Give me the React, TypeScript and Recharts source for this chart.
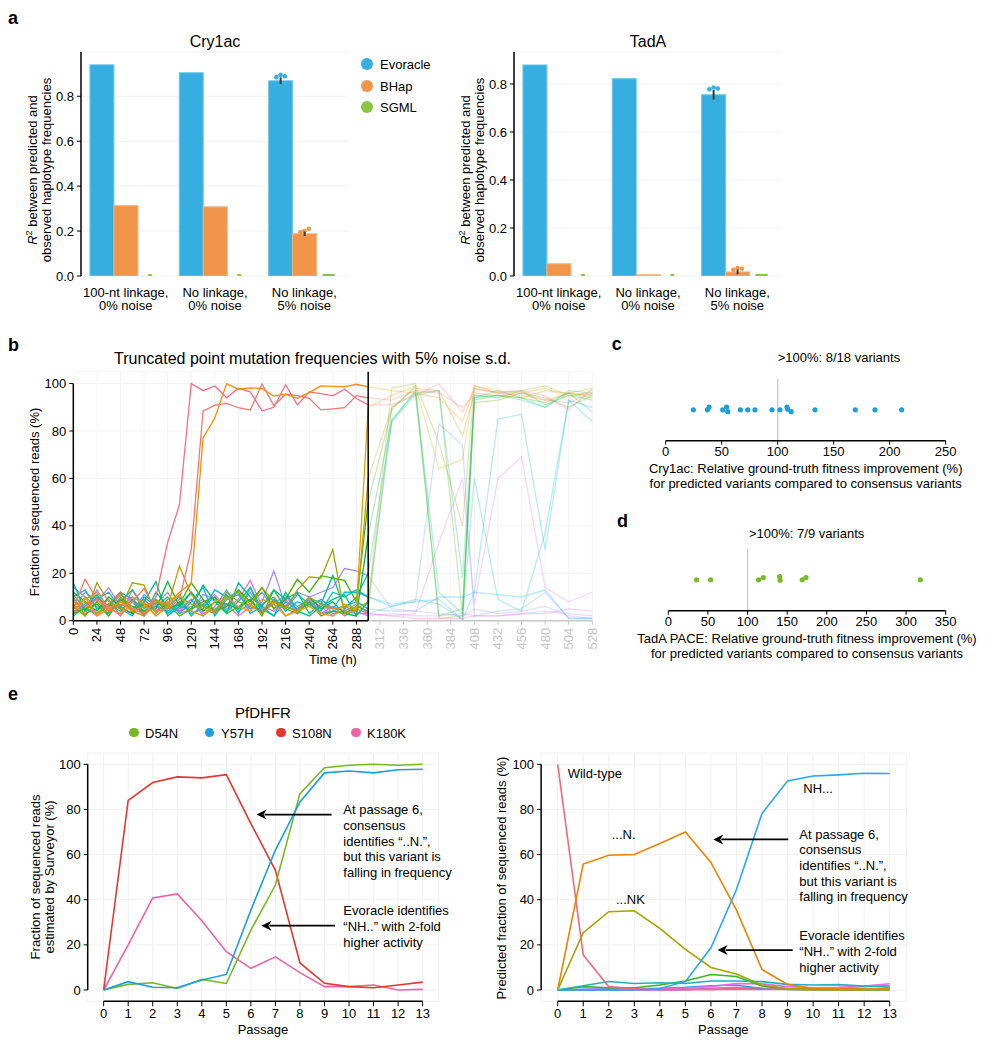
import React from "react";
import {
  Bar,
  BarChart,
  CartesianGrid,
  ErrorBar,
  Line,
  LineChart,
  ReferenceLine,
  Scatter,
  ScatterChart,
  XAxis,
  YAxis,
} from "recharts";

const FONT = "'Liberation Sans', Arial, Helvetica, sans-serif";

// ---------- a: R^2 between predicted and observed haplotype frequencies
const aCategories = ["100-nt linkage,|0% noise", "No linkage,|0% noise", "No linkage,|5% noise"];
const aMethods = ["Evoracle", "BHap", "SGML"];
const aColors = ["#36AEE0", "#F0954A", "#8CC444"];
const aStrokes = ["#72C8EE", "#F6B380", "#8CC444"];

const cryEvoracle = [0.94, 0.905, 0.869];
const cryBHap = [0.313, 0.308, 0.188];
const crySGML = [0, 0, 0];
const cryEvoErr = [0, 0, 0.015];
const cryBHapErr = [0, 0, 0.01];
const cryEvoReps = [[], [], [0.885, 0.895, 0.889]];
const cryBHapReps = [[], [], [0.195, 0.2, 0.21]];
const crySGMLReps = [[0], [0], [0, 0, 0, 0, 0]];

const tadEvoracle = [0.879, 0.822, 0.755];
const tadBHap = [0.051, 0.005, 0.017];
const tadSGML = [0, 0, 0];
const tadEvoErr = [0, 0, 0.02];
const tadBHapErr = [0, 0, 0.01];
const tadEvoReps = [[], [], [0.778, 0.785, 0.781]];
const tadBHapReps = [[], [], [0.026, 0.033, 0.03]];
const tadSGMLReps = [[0], [0], [0, 0, 0, 0, 0]];

// ---------- b: truncated point mutation frequencies (%)
const bTimes = [0, 12, 24, 36, 48, 60, 72, 84, 96, 108, 120, 132, 144, 156, 168, 180, 192, 204, 216, 228, 240, 252, 264, 276, 288, 300,
  324, 348, 372, 396, 408, 432, 456, 480, 504, 528];
const bTicks = [0, 24, 48, 72, 96, 120, 144, 168, 192, 216, 240, 264, 288, 312, 336, 360, 384, 408, 432, 456, 480, 504, 528];
const bCut = 300;

const bPinkA = [8, 6, 9, 4, 7, 5, 3, 10, 33, 49, 100, 97, 99, 94, 98, 96.5, 88.5, 90, 99.5, 91, 96.5, 95.8, 94.8, 97.6, 93.7, 91,
  91, 95, 99.8, 88, 97.7, 96.3, 97, 94.8, 89, 97.7];
const bSalmon = [5, 17.5, 9, 6, 2, 8, 13.5, 4, 5, 9, 30, 88.4, 90.9, 91.6, 89.8, 88.8, 99.8, 90.7, 95.5, 94.9, 93.8, 88.9, 89.3, 89.8, 94.9, 94,
  93, 97, 96, 90, 95, 95, 96, 93, 92, 96];
const bOrange = [3, 10, 2, 5, 8, 4, 6, 8, 7, 12, 15.7, 77, 85.5, 100, 97.6, 98.2, 97.9, 94.7, 95.5, 93.8, 96.3, 99, 98.8, 98.6, 99.7, 98.6,
  97, 96, 94, 84, 98, 96, 95, 93, 96, 95];
const bGold = [6, 9, 12, 5, 3, 10, 7, 2, 6, 11, 4, 2, 8, 10, 6, 4, 9, 7, 2, 4, 6, 3, 2, 7, 5, 90,
  95, 99, 64, 68, 99, 97, 96, 98, 94, 97];
const bOlive = [10, 2, 16, 8, 5, 16, 15, 3, 9, 10, 7, 5, 3, 12, 8, 6, 14, 8, 5, 13, 18.5, 18, 30, 3, 5, 8,
  98, 100, 75, 40, 99, 96, 97, 99, 95, 96];
const bOliveGold = [5, 8, 3, 7, 12, 4, 2, 9, 6, 23, 11, 6, 4, 9, 12, 7, 3, 8, 6, 4, 10, 7, 5, 6, 4, 60,
  90, 98, 97, 78, 96, 95, 94, 97, 96, 98];
const bGreen = [3, 5, 7, 2, 9, 6, 4, 8, 5, 7, 16, 9, 4, 6, 13, 8, 14, 5, 9, 17.5, 12, 19, 18, 17, 8, 50,
  89, 99, 1, 2, 93, 95, 94, 92, 96, 94];
const bGreen2 = [12, 8, 4, 10, 6, 3, 7, 5, 16.5, 6, 12, 4, 8, 7, 5, 9, 3, 8, 6, 4, 10, 5, 8, 3, 2, 36,
  85, 96, 2, 5, 95, 94, 97, 91, 95, 93];
const bTeal = [16, 4, 10, 6, 12, 3, 8, 16.5, 2, 6, 5, 15, 8, 3, 16, 10, 6, 13, 9, 12, 3, 7, 19, 5, 10, 20,
  84, 97, 12, 3, 94, 95, 93, 90, 97, 96];
const bTeal2 = [2, 6, 11, 4, 8, 13, 5, 9, 3, 7, 12, 6, 10, 4, 8, 14, 3, 9, 5, 11, 7, 4, 12, 10, 13, 10,
  6, 9, 7, 0.5, 60, 9, 4, 37, 93, 90];
const bCyan = [10, 13, 5, 7, 12, 9, 4, 6, 10, 3, 8, 14, 2, 9, 11, 5, 7, 10, 4, 8, 6, 9, 5, 12, 12, 10,
  7, 8, 9, 0.5, 12, 85, 87, 30, 93, 84];
const bCyan2 = [3, 7, 9, 12, 5, 2, 10, 6, 4, 8, 3, 5, 13, 10, 12, 3, 6, 2, 8, 5, 9, 3, 4, 6, 8, 5,
  4, 4, 10, 10, 12, 11, 10, 13, 1, 1];
const bBlue = [14, 10, 6, 3, 9, 4, 11, 7, 3, 5, 9, 2, 6, 13, 4, 7, 12, 5, 10, 6, 9, 8, 3, 4, 7, 3,
  6, 8, 83, 74, 2, 4, 5, 12, 1, 1];
const bPurple = [5, 12, 8, 14, 6, 10, 3, 9, 5, 7, 4, 11, 9, 6, 13, 5, 8, 21, 6, 12, 10, 12, 14, 22, 21, 19,
  5, 4, 3, 2, 5, 3, 4, 6, 2, 1];
const bViolet = [9, 4, 13, 5, 11, 8, 2, 7, 12, 4, 6, 9, 3, 10, 5, 12, 4, 7, 11, 3, 9, 6, 2, 5, 4, 2,
  3, 2, 2, 3, 2, 2, 3, 4, 3, 2];
const bMagenta = [7, 3, 5, 9, 2, 13, 6, 4, 8, 3, 5, 7, 11, 5, 9, 17, 6, 4, 9, 3, 8, 5, 6, 4, 3, 3,
  2, 3, 33, 60, 7, 60, 69, 14, 8, 12];
const bPink2 = [4, 6, 2, 7, 5, 3, 8, 2, 6, 4, 9, 3, 5, 7, 2, 6, 4, 9, 2, 5, 7, 3, 6, 2, 5, 3,
  2, 1, 1, 1, 2, 2, 3, 3, 5, 4];
const bGreen3 = [6, 2, 8, 3, 10, 5, 9, 4, 7, 2, 5, 8, 10, 3, 6, 9, 2, 13, 5, 3, 8, 2, 4, 3, 6, 4,
  90, 96, 97, 2, 92, 93, 96, 94, 90, 95];
const bTeal3 = [11, 5, 3, 7, 4, 9, 2, 12, 6, 10, 2, 7, 4, 11, 3, 14, 5, 2, 12, 4, 2, 6, 9, 11, 2, 8,
  84, 95, 97, 18, 94, 97, 94, 90, 96, 88];

const bSeries = [
  { color: "#00A9FF", values: bCyan2 },
  { color: "#619CFF", values: bBlue },
  { color: "#B983FF", values: bViolet },
  { color: "#FF62BC", values: bPink2 },
  { color: "#E76BF3", values: bMagenta },
  { color: "#A58AFF", values: bPurple },
  { color: "#00B8E5", values: bCyan },
  { color: "#00BFC4", values: bTeal2 },
  { color: "#00C1A3", values: bTeal3 },
  { color: "#53B400", values: bGreen3 },
  { color: "#00C08B", values: bTeal },
  { color: "#00BA38", values: bGreen2 },
  { color: "#39B600", values: bGreen },
  { color: "#A3A500", values: bOlive },
  { color: "#C49A00", values: bOliveGold },
  { color: "#E69F00", values: bGold },
  { color: "#F8766D", values: bSalmon },
  { color: "#FF6B81", values: bPinkA },
  { color: "#FF8C00", values: bOrange },
];

// ---------- c, d: relative ground-truth fitness improvement (%)
const cValues = [24.7, 37.2, 38.7, 50.9, 54.4, 55.4, 66.7, 73.2, 79.7, 94.9, 102, 108.3, 109, 112, 133.3, 169.3, 186.9, 210.7];
const cJitter = [0, 0, 0.09, 0, 0.09, -0.06, 0, 0, 0, 0, 0, 0.09, 0.02, -0.06, 0, 0, 0, 0];
const dValues = [35.8, 53.5, 114, 119.9, 140.5, 141, 169, 173.7, 318];
const dJitter = [0, 0, 0, 0.075, 0.105, -0.01, 0, 0.075, 0];

// ---------- e: PfDHFR passages
const passages = [0, 1, 2, 3, 4, 5, 6, 7, 8, 9, 10, 11, 12, 13];
const d54n = [0, 2.5, 3.2, 0.7, 4.7, 2.9, 26.5, 46.5, 87, 98.5, 99.6, 100, 99.6, 100];
const y57h = [0, 3.7, 1.2, 1, 4.4, 6.9, 35.4, 62, 83.3, 96.2, 97, 96.2, 97.6, 97.8];
const s108n = [0, 84, 91.9, 94.4, 94, 95.4, 73.7, 53, 12, 3, 1.5, 1, 2.2, 3.5];
const k180k = [0, 20, 40.8, 42.6, 30.7, 17, 9.6, 14.7, 7.7, 1.5, 1.5, 2.2, 0, 0.3];
const eLeftSeries = [
  { name: "K180K", color: "#EF62A8", values: k180k },
  { name: "S108N", color: "#E8352E", values: s108n },
  { name: "D54N", color: "#78B828", values: d54n },
  { name: "Y57H", color: "#1A9FE0", values: y57h },
];

const hapWildType = [100, 15.5, 1.5, 0.5, 0.3, 0.3, 0.3, 0.3, 0.3, 0.3, 0.3, 0.3, 0.3, 0.3];
const hapDotN = [0, 55.8, 59.7, 60, 64.9, 70, 56.5, 35.4, 9.1, 2.5, 0.7, 0.5, 0.4, 0.4];
const hapDotNK = [0, 25.4, 34.7, 35.1, 27.3, 18, 10, 7.1, 2.2, 0.7, 0.4, 0.3, 0.3, 0.3];
const hapNH = [0, 0, 0, 0, 0.7, 3.7, 18.7, 44.5, 78.2, 92.6, 94.8, 95.3, 96, 95.9];
const hapTeal = [0, 1.9, 3.8, 2.9, 3.2, 2.9, 4, 4, 3.7, 2.5, 2.2, 2.4, 1.8, 1.3];
const hapGreen = [0, 1.5, 1, 1, 2.2, 4, 6.9, 6, 1.8, 0.3, 0, 0, 0, 0];
const hapMagenta = [0, 0.2, 0.3, 0.3, 0.5, 0.8, 1.5, 2.9, 2.7, 1.5, 1, 1.2, 1.8, 2.8];
const hapBlue2 = [0, 0.3, 0.5, 0.5, 0.8, 1.2, 1.9, 2.2, 0.7, 0.5, 0.5, 0.4, 0.3, 0.3];
const hapPink2 = [0, 0, 0, 0, 0, 0.2, 0.3, 0.6, 0.5, 0.4, 0.3, 0.3, 0.3, 0.2];
const hapPurple = [0, 0, 0, 0, 0, 0, 0.8, 1.2, 0.8, 0.5, 0.8, 1, 1.5, 2];
const eRightSeries = [
  { color: "#F5589A", values: hapPink2 },
  { color: "#B07CF5", values: hapPurple },
  { color: "#3F9BE8", values: hapBlue2 },
  { color: "#E46CF0", values: hapMagenta },
  { color: "#38B61F", values: hapGreen },
  { color: "#1FB2BC", values: hapTeal },
  { color: "#F7657A", values: hapWildType },
  { color: "#A7A200", values: hapDotNK },
  { color: "#EE8300", values: hapDotN },
  { color: "#2AA7F5", values: hapNH },
];

// ---------- helpers
const Txt = ({ x, y, children, size = 13, center = false, weight = 400 }: any) => (
  <div
    style={{
      position: "absolute",
      left: x,
      top: y,
      fontSize: size,
      fontWeight: weight,
      lineHeight: 1,
      whiteSpace: "nowrap",
      transform: center ? "translate(-50%, -50%)" : "translate(0, -50%)",
    }}
  >
    {children}
  </div>
);

const Block = ({ x, top, lines, lh = 15.7, center = false }: any) => (
  <div
    style={{
      position: "absolute",
      left: x,
      top,
      fontSize: 13,
      lineHeight: `${lh}px`,
      whiteSpace: "nowrap",
      textAlign: center ? "center" : "left",
      transform: center ? "translateX(-50%)" : undefined,
    }}
  >
    {lines.map((l: string, i: number) => (
      <div key={i}>{l}</div>
    ))}
  </div>
);

const VLabel = ({ cx, cy, children, lh = 14 }: any) => (
  <div
    style={{
      position: "absolute",
      left: cx,
      top: cy,
      fontSize: 13,
      lineHeight: `${lh}px`,
      whiteSpace: "nowrap",
      textAlign: "center",
      transform: "translate(-50%, -50%) rotate(-90deg)",
    }}
  >
    {children}
  </div>
);

const PanelLetter = ({ x, top, ch }: any) => (
  <div style={{ position: "absolute", left: x, top, fontSize: 18, fontWeight: 700, lineHeight: 1 }}>{ch}</div>
);

const barWithReps = (repsKey: string, dotColor: string) => (props: any) => {
  const { x, y, width, height, payload, fill, stroke } = props;
  const raw = props.value;
  const v = Array.isArray(raw) ? raw[1] : raw;
  const reps: number[] = (payload && payload[repsKey]) || [];
  const base = y + height;
  const ppu = v > 0 ? height / v : 0;
  return (
    <g>
      {height > 0 && <rect x={x} y={y} width={width} height={height} fill={fill} stroke={stroke} strokeWidth={1} />}
      {reps.map((r, i) => {
        const off = reps.length > 1 ? (i / (reps.length - 1) - 0.5) * 0.35 * width : 0;
        return <circle key={i} cx={x + width / 2 + off} cy={base - r * ppu} r={2.3} fill={dotColor} />;
      })}
    </g>
  );
};

const CatTick = (props: any) => {
  const { x, y, payload } = props;
  const lines = String(payload.value).split("|");
  return (
    <text x={x} y={y} textAnchor="middle" fontSize={13} fill="#000">
      {lines.map((l, i) => (
        <tspan key={i} x={x} dy={i === 0 ? 20.5 : 13.6}>
          {l}
        </tspan>
      ))}
    </text>
  );
};

const TimeTick = (props: any) => {
  const { x, y, payload } = props;
  const c = payload.value > bCut ? "#C4C4C4" : "#000";
  return (
    <g>
      <line x1={x} y1={y} x2={x} y2={y + 4} stroke={c} strokeWidth={1} />
      <text
        x={x}
        y={y + 7}
        transform={`rotate(-90 ${x} ${y + 7})`}
        textAnchor="end"
        dominantBaseline="central"
        fontSize={13}
        fill={c}
      >
        {payload.value}
      </text>
    </g>
  );
};

const arrowShape = (props: any) => {
  const { x1, y1, x2, y2 } = props;
  const dx = x2 - x1;
  const dy = y2 - y1;
  const len = Math.hypot(dx, dy) || 1;
  const ux = dx / len;
  const uy = dy / len;
  const hl = 10;
  const hw = 5;
  const bx = x2 - ux * hl;
  const by = y2 - uy * hl;
  return (
    <g>
      <line x1={x1} y1={y1} x2={bx + ux * 2} y2={by + uy * 2} stroke="#000" strokeWidth={1.7} />
      <polygon points={`${x2},${y2} ${bx - uy * hw},${by + ux * hw} ${bx + ux * 3},${by + uy * 3} ${bx + uy * hw},${by - ux * hw}`} fill="#000" />
    </g>
  );
};

const tickStyle = { fill: "#000", fontSize: 13 };

// ---------- panel a chart
const BarPanel = ({ evo, bhap, sgml, evoErr, bhapErr, evoReps, bhapReps, sgmlReps, yMax }: any) => {
  const data = aCategories.map((cat, i) => ({
    cat,
    evo: evo[i],
    bhap: bhap[i],
    sgml: sgml[i],
    evoErr: evoErr[i],
    bhapErr: bhapErr[i],
    evoReps: evoReps[i],
    bhapReps: bhapReps[i],
    sgmlReps: sgmlReps[i],
  }));
  return (
    <BarChart width={360} height={320} data={data} margin={{ top: 52, right: 11, left: 0, bottom: 0 }} barGap={0} barCategoryGap="10%">
      <CartesianGrid vertical={false} stroke="#F1F1F1" />
      <XAxis dataKey="cat" axisLine={false} tickLine={false} tickSize={0} tickMargin={0} height={44} interval={0} tick={<CatTick />} />
      <YAxis
        domain={[0, yMax]}
        ticks={[0, 0.2, 0.4, 0.6, 0.8]}
        tickFormatter={(v: number) => v.toFixed(1)}
        width={81}
        allowDataOverflow
        axisLine={{ stroke: "#000", strokeWidth: 1.5 }}
        tickLine={{ stroke: "#000" }}
        tickSize={4}
        tickMargin={3}
        tick={tickStyle}
      />
      <Bar dataKey="evo" fill={aColors[0]} stroke={aStrokes[0]} shape={barWithReps("evoReps", aColors[0])} isAnimationActive={false}>
        <ErrorBar dataKey="evoErr" width={0} stroke="#3A3A3A" strokeWidth={2} />
      </Bar>
      <Bar dataKey="bhap" fill={aColors[1]} stroke={aStrokes[1]} shape={barWithReps("bhapReps", aColors[1])} isAnimationActive={false}>
        <ErrorBar dataKey="bhapErr" width={0} stroke="#3A3A3A" strokeWidth={2} />
      </Bar>
      <Bar dataKey="sgml" fill={aColors[2]} stroke={aStrokes[2]} shape={barWithReps("sgmlReps", aColors[2])} isAnimationActive={false} />
    </BarChart>
  );
};

const bRows = bTimes.map((t, i) => {
  const row: any = { t };
  bSeries.forEach((s, k) => {
    row[`s${k}`] = t <= bCut ? s.values[i] : null;
    row[`f${k}`] = t >= bCut ? s.values[i] : null;
  });
  return row;
});

const eLeftRows = passages.map((p, i) => {
  const row: any = { p };
  eLeftSeries.forEach((s, k) => (row[`l${k}`] = s.values[i]));
  return row;
});

const eRightRows = passages.map((p, i) => {
  const row: any = { p };
  eRightSeries.forEach((s, k) => (row[`r${k}`] = s.values[i]));
  return row;
});

const pctTicks = [0, 20, 40, 60, 80, 100];

const PassageChart = ({ rows, series, prefix, width, yAxisWidth, right, arrows }: any) => (
  <LineChart width={width} height={310} data={rows} margin={{ top: 13, right, left: 0, bottom: 0 }}>
    <CartesianGrid stroke="#F0F0F0" />
    <XAxis
      type="number"
      dataKey="p"
      domain={[-0.65, 13.65]}
      ticks={passages}
      interval={0}
      allowDataOverflow
      axisLine={false}
      tickLine={{ stroke: "#000" }}
      tickSize={5}
      tickMargin={2}
      height={48.7}
      tick={tickStyle}
    />
    <YAxis
      domain={[-5, 105]}
      ticks={pctTicks}
      width={yAxisWidth}
      allowDataOverflow
      axisLine={false}
      tickLine={{ stroke: "#000" }}
      tickSize={4}
      tickMargin={3}
      tick={tickStyle}
    />
    <ReferenceLine segment={[{ x: 0, y: -5 }, { x: 13, y: -5 }]} stroke="#000" strokeWidth={1.5} />
    <ReferenceLine segment={[{ x: -0.65, y: 0 }, { x: -0.65, y: 100 }]} stroke="#000" strokeWidth={1.5} />
    {series.map((s: any, k: number) => (
      <Line key={k} dataKey={`${prefix}${k}`} stroke={s.color} strokeWidth={1.6} dot={false} isAnimationActive={false} />
    ))}
    {arrows.map((a: any, k: number) => (
      <ReferenceLine key={`a${k}`} segment={[{ x: a.from, y: a.y }, { x: a.to, y: a.y }]} shape={arrowShape} />
    ))}
  </LineChart>
);

const eLeftArrows = [
  { from: 9.29, to: 6.23, y: 77.7 },
  { from: 9.43, to: 6.43, y: 28.5 },
];
const eRightArrows = [
  { from: 9.03, to: 6.09, y: 66.7 },
  { from: 9.2, to: 6.26, y: 17.7 },
];

const StripChart = ({ values, jitter, max, ticks, color, left }: any) => {
  const pts = values.map((v: number, i: number) => ({ v, j: jitter[i] }));
  return (
    <ScatterChart width={310} height={100} margin={{ top: 9, right: 14.3, left, bottom: 0 }}>
      <XAxis
        type="number"
        dataKey="v"
        domain={[0, max]}
        ticks={ticks}
        interval={0}
        height={100 - 9 - 61.7}
        axisLine={{ stroke: "#000", strokeWidth: 1.5 }}
        tickLine={{ stroke: "#000" }}
        tickSize={4}
        tickMargin={2}
        tick={tickStyle}
      />
      <YAxis type="number" dataKey="j" domain={[-1, 1]} hide />
      <ReferenceLine x={100} stroke="#CDCDCD" strokeWidth={1.5} />
      <Scatter
        data={pts}
        fill={color}
        isAnimationActive={false}
        shape={(p: any) => <circle cx={p.cx} cy={p.cy} r={2.6} fill={color} />}
      />
    </ScatterChart>
  );
};

export default function App() {
  return (
    <div
      style={{
        position: "absolute",
        left: 0,
        top: 0,
        width: 989,
        height: 1050,
        background: "#fff",
        color: "#000",
        fontFamily: FONT,
        overflow: "hidden",
      }}
    >
      {/* ---------- a ---------- */}
      <PanelLetter x={8} top={8.8} ch="a" />
      <Txt x={215} y={42} size={16} center>
        Cry1ac
      </Txt>
      <Txt x={648} y={42} size={16} center>
        TadA
      </Txt>
      <div style={{ position: "absolute", left: 0, top: 0 }}>
        <BarPanel
          evo={cryEvoracle}
          bhap={cryBHap}
          sgml={crySGML}
          evoErr={cryEvoErr}
          bhapErr={cryBHapErr}
          evoReps={cryEvoReps}
          bhapReps={cryBHapReps}
          sgmlReps={crySGMLReps}
          yMax={0.997}
        />
      </div>
      <div style={{ position: "absolute", left: 433, top: 0 }}>
        <BarPanel
          evo={tadEvoracle}
          bhap={tadBHap}
          sgml={tadSGML}
          evoErr={tadEvoErr}
          bhapErr={tadBHapErr}
          evoReps={tadEvoReps}
          bhapReps={tadBHapReps}
          sgmlReps={tadSGMLReps}
          yMax={0.933}
        />
      </div>
      {[0, 433].map((dx) => (
        <VLabel key={dx} cx={39.5 + dx} cy={170} lh={14}>
          <i>R</i>
          <sup style={{ fontSize: 9, lineHeight: 0 }}>2</sup> between predicted and
          <br />
          observed haplotype frequencies
        </VLabel>
      ))}
      {aMethods.map((m, i) => (
        <React.Fragment key={m}>
          <div
            style={{
              position: "absolute",
              left: 361,
              top: 58 + i * 21.5,
              width: 12,
              height: 12,
              borderRadius: 6,
              background: aColors[i],
            }}
          />
          <Txt x={380} y={64 + i * 21.5}>
            {m}
          </Txt>
        </React.Fragment>
      ))}

      {/* ---------- b ---------- */}
      <PanelLetter x={8} top={335.5} ch="b" />
      <Txt x={312.5} y={359} size={16} center>
        Truncated point mutation frequencies with 5% noise s.d.
      </Txt>
      <div style={{ position: "absolute", left: 0, top: 320 }}>
        <LineChart width={600} height={340} data={bRows} margin={{ top: 51.7, right: 7.7, left: 0, bottom: 0 }}>
          <CartesianGrid stroke="#F3F3F3" />
          <XAxis
            type="number"
            dataKey="t"
            domain={[0, 528]}
            ticks={bTicks}
            interval={0}
            axisLine={false}
            tickLine={false}
            tickSize={0}
            tickMargin={0}
            height={39.3}
            tick={<TimeTick />}
          />
          <YAxis
            domain={[0, 105]}
            ticks={pctTicks}
            width={73.3}
            allowDataOverflow
            axisLine={false}
            tickLine={{ stroke: "#000" }}
            tickSize={4}
            tickMargin={3}
            tick={tickStyle}
          />
          {bSeries.map((s, k) => (
            <Line
              key={`f${k}`}
              dataKey={`f${k}`}
              stroke={s.color}
              strokeOpacity={0.28}
              strokeWidth={1.3}
              dot={false}
              isAnimationActive={false}
            />
          ))}
          {bSeries.map((s, k) => (
            <Line key={`s${k}`} dataKey={`s${k}`} stroke={s.color} strokeWidth={1.3} dot={false} isAnimationActive={false} />
          ))}
          <ReferenceLine segment={[{ x: 0, y: 0 }, { x: 0, y: 100 }]} stroke="#000" strokeWidth={1.5} />
          <ReferenceLine segment={[{ x: 0, y: 0 }, { x: bCut, y: 0 }]} stroke="#000" strokeWidth={1.5} />
          <ReferenceLine segment={[{ x: bCut, y: 0 }, { x: 528, y: 0 }]} stroke="#C8C8C8" strokeWidth={1.5} />
          <ReferenceLine x={bCut} stroke="#000" strokeWidth={1.5} />
        </LineChart>
      </div>
      <VLabel cx={35} cy={501.7}>
        Fraction of sequenced reads (%)
      </VLabel>
      <Txt x={333} y={659} center>
        Time (h)
      </Txt>

      {/* ---------- c ---------- */}
      <PanelLetter x={611.7} top={334.8} ch="c" />
      <Txt x={777.7} y={357}>
        &gt;100%: 8/18 variants
      </Txt>
      <div style={{ position: "absolute", left: 650, top: 370 }}>
        <StripChart values={cValues} jitter={cJitter} max={250} ticks={[0, 50, 100, 150, 200, 250]} color="#1A9FDB" left={15.7} />
      </div>
      <Block
        x={805.7}
        top={460.5}
        lh={15}
        center
        lines={["Cry1ac: Relative ground-truth fitness improvement (%)", "for predicted variants compared to consensus variants"]}
      />

      {/* ---------- d ---------- */}
      <PanelLetter x={617} top={511.8} ch="d" />
      <Txt x={749} y={533}>
        &gt;100%: 7/9 variants
      </Txt>
      <div style={{ position: "absolute", left: 650, top: 540 }}>
        <StripChart
          values={dValues}
          jitter={dJitter}
          max={350}
          ticks={[0, 50, 100, 150, 200, 250, 300, 350]}
          color="#7AB929"
          left={18.3}
        />
      </div>
      <Block
        x={807}
        top={630.8}
        lh={15}
        center
        lines={["TadA PACE: Relative ground-truth fitness improvement (%)", "for predicted variants compared to consensus variants"]}
      />

      {/* ---------- e ---------- */}
      <PanelLetter x={8} top={684.8} ch="e" />
      <Txt x={263} y={712} size={15} center>
        PfDHFR
      </Txt>
      {[
        { name: "D54N", color: "#78B828", cx: 134, tx: 145 },
        { name: "Y57H", color: "#1A9FE0", cx: 209.3, tx: 221 },
        { name: "S108N", color: "#E8352E", cx: 281, tx: 292 },
        { name: "K180K", color: "#EF62A8", cx: 356, tx: 367 },
      ].map((l) => (
        <React.Fragment key={l.name}>
          <div
            style={{
              position: "absolute",
              left: l.cx - 4.7,
              top: 732.7 - 4.7,
              width: 9.4,
              height: 9.4,
              borderRadius: 5,
              background: l.color,
            }}
          />
          <Txt x={l.tx} y={732.7}>
            {l.name}
          </Txt>
        </React.Fragment>
      ))}
      <div style={{ position: "absolute", left: 0, top: 740 }}>
        <PassageChart rows={eLeftRows} series={eLeftSeries} prefix="l" width={450} yAxisWidth={87.7} right={11.4} arrows={eLeftArrows} />
      </div>
      <div style={{ position: "absolute", left: 480, top: 740 }}>
        <PassageChart rows={eRightRows} series={eRightSeries} prefix="r" width={440} yAxisWidth={61.1} right={13.7} arrows={eRightArrows} />
      </div>
      <VLabel cx={41.7} cy={876.7} lh={13.5}>
        Fraction of sequenced reads
        <br />
        estimated by Surveyor (%)
      </VLabel>
      <VLabel cx={501.7} cy={877.5}>
        Predicted fraction of sequenced reads (%)
      </VLabel>
      <Txt x={263} y={1029} center>
        Passage
      </Txt>
      <Txt x={723.3} y={1029} center>
        Passage
      </Txt>
      <Block
        x={343.3}
        top={802.2}
        lines={["At passage 6,", "consensus", "identifies \u201c..N.\u201d,", "but this variant is", "falling in frequency"]}
      />
      <Block x={343.3} top={903.2} lines={["Evoracle identifies", "\u201cNH..\u201d with 2-fold", "higher activity"]} />
      <Block
        x={799.3}
        top={826.5}
        lines={["At passage 6,", "consensus", "identifies \u201c..N.\u201d,", "but this variant is", "falling in frequency"]}
      />
      <Block x={799.3} top={928.2} lines={["Evoracle identifies", "\u201cNH..\u201d with 2-fold", "higher activity"]} />
      <Txt x={567.7} y={773.3}>
        Wild-type
      </Txt>
      <Txt x={803.3} y={788.3}>
        NH...
      </Txt>
      <Txt x={611.7} y={834.3}>
        ...N.
      </Txt>
      <Txt x={616} y={899.3}>
        ...NK
      </Txt>
    </div>
  );
}
